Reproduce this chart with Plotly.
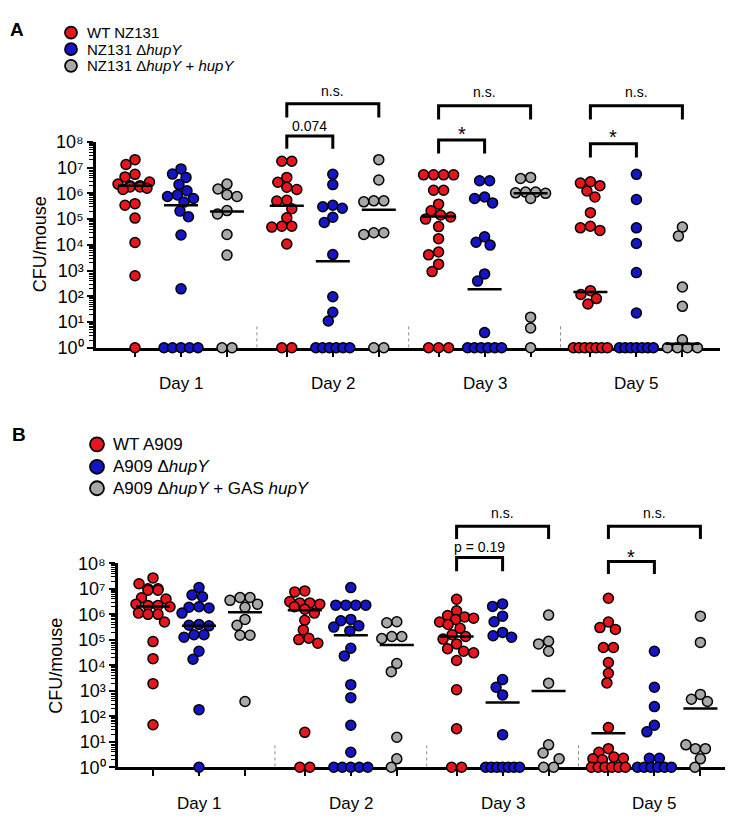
import numpy as np
import plotly.graph_objects as go

W, H = 733, 820

# ---------------- data (log10 CFU/mouse; 0 = 10^0 detection floor) ----------------
days = ["Day 1", "Day 2", "Day 3", "Day 5"]
strains_a = ["WT NZ131", "NZ131 Δ<i>hupY</i>", "NZ131 Δ<i>hupY</i> + <i>hupY</i>"]
strains_b = ["WT A909", "A909 Δ<i>hupY</i>", "A909 Δ<i>hupY</i> + GAS <i>hupY</i>"]
colors = ["#e8161c", "#1515c8", "#a8a8a8"]

a_wt = [
    [7.31, 7.12, 6.74, 6.64, 6.44, 6.36, 6.3, 6.3, 6.25, 6.25, 6.2, 6.15, 5.6, 5.54, 5.04, 4.09, 2.8, 0],
    [7.25, 7.25, 6.62, 6.43, 6.24, 6.15, 5.73, 5.7, 5.4, 5.05, 4.72, 4.72, 4.69, 4.03, 0, 0],
    [6.72, 6.72, 6.72, 6.72, 6.12, 6.12, 5.58, 5.32, 5.16, 5.08, 5.0, 4.71, 4.24, 3.72, 3.61, 3.25, 2.96, 0, 0, 0],
    [6.45, 6.4, 6.3, 6.09, 5.86, 5.25, 4.72, 4.66, 4.56, 2.22, 2.07, 1.91, 1.7, 0, 0, 0, 0, 0, 0, 0],
]
a_ko = [
    [6.95, 6.75, 6.62, 6.34, 6.1, 5.94, 5.88, 5.8, 5.66, 5.31, 5.09, 4.38, 2.29, 0, 0, 0, 0, 0],
    [6.74, 6.34, 5.54, 5.48, 5.42, 5.07, 4.87, 3.62, 1.98, 1.38, 1.04, 0, 0, 0, 0, 0, 0],
    [6.49, 6.49, 5.86, 5.8, 5.63, 4.31, 4.1, 3.99, 2.87, 2.59, 0.59, 0, 0, 0, 0, 0, 0],
    [6.74, 5.76, 4.66, 4.05, 2.92, 1.35, 0, 0, 0, 0, 0, 0, 0],
]
a_comp = [
    [6.36, 6.17, 5.95, 5.88, 5.33, 5.2, 4.4, 3.6, 0, 0],
    [7.31, 6.52, 5.71, 5.71, 5.67, 4.47, 4.47, 4.4, 0, 0],
    [6.62, 6.58, 6.05, 6.05, 6.02, 6.0, 5.8, 1.19, 0.77, 0],
    [4.69, 4.34, 2.36, 1.61, 0.31, 0, 0, 0, 0],
]
a_median = [
    [6.3, 5.52, 5.1, 2.17],
    [5.54, 3.36, 2.27, None],
    [5.3, 5.36, 6.0, 0.16],
]

b_wt = [
    [7.43, 7.2, 7.0, 7.0, 6.95, 6.95, 6.65, 6.6, 6.4, 6.35, 6.35, 6.3, 6.05, 6.0, 6.0, 5.7, 4.93, 4.26, 3.28, 1.67],
    [6.92, 6.88, 6.5, 6.45, 6.45, 6.4, 6.3, 6.2, 6.05, 5.77, 5.39, 5.06, 5.01, 4.87, 1.37, 0, 0],
    [6.59, 6.14, 5.95, 5.9, 5.85, 5.8, 5.7, 5.6, 5.45, 5.2, 5.13, 5.03, 4.84, 4.65, 4.55, 4.49, 4.19, 3.04, 1.51, 0, 0],
    [6.63, 5.7, 5.48, 5.41, 4.7, 4.7, 4.11, 3.69, 3.31, 1.56, 0.73, 0.59, 0.4, 0.35, 0.33, 0.3, 0, 0, 0, 0, 0, 0],
]
b_ko = [
    [7.05, 6.76, 6.69, 6.3, 6.28, 6.25, 6.05, 5.6, 5.57, 5.55, 5.2, 5.2, 5.1, 4.55, 4.24, 2.26, 0],
    [7.05, 6.36, 6.36, 6.36, 6.36, 5.8, 5.75, 5.55, 5.5, 5.35, 4.67, 4.37, 3.24, 2.73, 1.65, 0.59, 0, 0, 0, 0, 0],
    [6.41, 6.31, 5.93, 5.71, 5.29, 5.16, 5.1, 3.44, 3.14, 2.84, 1.28, 0, 0, 0, 0, 0, 0, 0],
    [4.55, 3.14, 2.38, 1.65, 1.39, 0.35, 0.35, 0, 0, 0, 0, 0, 0],
]
b_comp = [
    [6.66, 6.66, 6.55, 6.4, 6.28, 5.8, 5.57, 5.18, 5.18, 2.58],
    [5.71, 5.67, 5.13, 5.13, 5.05, 4.07, 3.75, 1.18, 0.33, 0],
    [5.97, 4.94, 4.84, 4.55, 3.3, 0.88, 0.56, 0.33, 0, 0],
    [5.93, 4.9, 2.86, 2.67, 2.58, 0.88, 0.73, 0.73, 0.33, 0],
]
b_median = [
    [6.31, 6.16, 5.13, 1.33],
    [5.55, 5.18, 2.54, None],
    [6.08, 4.8, 2.99, 2.31],
]

y_exponents = list(range(0, 9))
SUP = "⁰¹²³⁴⁵⁶⁷⁸⁹"
y_ticktext = ["10" + SUP[k] for k in y_exponents]

# ---------------- layout helpers ----------------
FONT = "Liberation Sans, Arial, sans-serif"
DAY_GAP = 3.3
UNIT_PX = 46.0


def px(x):
    return x / W


def py(y):
    return 1 - y / H


def swarm(vals, ppd, ppu, diam=10.0, half=17.0):
    n = len(vals)
    ys = [v * ppd for v in vals]
    offs = [None] * n
    placed = []
    ties = {}
    for i, v in enumerate(vals):
        ties.setdefault(v, []).append(i)
    for v, idx in ties.items():
        k = len(idx)
        if k < 2:
            continue
        w = min((k - 1) * diam, 2 * half)
        for i, x in zip(idx, np.linspace(-w / 2, w / 2, k)):
            offs[i] = float(x)
            placed.append((float(x), ys[i]))
    cands = sorted(np.arange(-half, half + 0.01, 0.5), key=lambda c: (abs(c), c))
    rest = sorted([i for i in range(n) if offs[i] is None], key=lambda i: -vals[i])
    for i in rest:
        best, bestd = 0.0, -1
        for c in cands:
            dmin = min([np.hypot(c - a, ys[i] - b) for a, b in placed], default=1e9)
            if dmin >= diam:
                best = c
                break
            if dmin > bestd:
                bestd, best = dmin, c
        offs[i] = float(best)
        placed.append((float(best), ys[i]))
    return [o / ppu for o in offs]


panels = [
    dict(tag="A", xa="x", ya="y", xk="xaxis", yk="yaxis",
         data=[a_wt, a_ko, a_comp], med=a_median, names=strains_a,
         ax0=88, ax1=712, first=127, ybot=338, ytop=127, sep_top=7.85,
         ylab=(32, 232), daylab_y=375, letter=(9, 12), legfs=15,
         leg=dict(cx=63, ys=[15, 32, 49], r=6, tx=78),
         brackets=[(1, 0, 2, 88, 102, "n.s.", 75, 14),
                   (1, 0, 1, 121, 134, "0.074", 111, 14),
                   (2, 0, 2, 90, 104, "n.s.", 76, 14),
                   (2, 0, 1, 125, 139, "*", 119, 20),
                   (3, 0, 2, 90, 104, "n.s.", 76, 14),
                   (3, 0, 1, 129, 143, "*", 122, 20)]),
    dict(tag="B", xa="x2", ya="y2", xk="xaxis2", yk="yaxis2",
         data=[b_wt, b_ko, b_comp], med=b_median, names=strains_b,
         ax0=110, ax1=731, first=145, ybot=768, ytop=559, sep_top=8.0,
         ylab=(48, 664), daylab_y=805, letter=(11, 427), legfs=17,
         leg=dict(cx=89, ys=[437, 460, 482], r=7, tx=104),
         brackets=[(2, 0, 2, 521, 534, "n.s.", 507, 14),
                   (2, 0, 1, 553, 567, "p = 0.19", 542, 14),
                   (3, 0, 2, 521, 534, "n.s.", 507, 14),
                   (3, 0, 1, 557, 570, "*", 552, 20)]),
]

fig = go.Figure()
shapes, annotations = [], []
layout = {}

for p in panels:
    ppu = UNIT_PX
    ppd = (p["ybot"] - p["ytop"]) / 8.0
    lo = -(p["first"] - p["ax0"]) / UNIT_PX
    hi = lo + (p["ax1"] - p["ax0"]) / UNIT_PX
    gpos = [d * DAY_GAP + g for d in range(4) for g in range(3)]

    # points
    for g in range(3):
        xs, ys = [], []
        for d in range(4):
            vals = p["data"][g][d]
            offs = swarm(vals, ppd, ppu)
            xs += [d * DAY_GAP + g + o for o in offs]
            ys += [10 ** v for v in vals]
        fig.add_trace(go.Scatter(
            x=xs, y=ys, xaxis=p["xa"], yaxis=p["ya"], mode="markers",
            marker=dict(size=10, color=colors[g], line=dict(color="black", width=1.5)),
            cliponaxis=False, showlegend=False, hoverinfo="skip"))

    # median lines
    mx, my = [], []
    for g in range(3):
        for d in range(4):
            m = p["med"][g][d]
            if m is None:
                continue
            c = d * DAY_GAP + g
            mx += [c - 0.37, c + 0.37, None]
            my += [10 ** m, 10 ** m, None]
    fig.add_trace(go.Scatter(x=mx, y=my, xaxis=p["xa"], yaxis=p["ya"], mode="lines",
                             line=dict(color="black", width=2.5), cliponaxis=False,
                             showlegend=False, hoverinfo="skip"))

    layout[p["xk"]] = dict(
        domain=[px(p["ax0"]), px(p["ax1"])], range=[lo, hi], anchor=p["ya"],
        tickmode="array", tickvals=gpos, showticklabels=False,
        ticks="outside", ticklen=6, tickwidth=2, tickcolor="black",
        showline=True, linewidth=2.5, linecolor="black", showgrid=False,
        zeroline=False, layer="below traces", fixedrange=True)
    layout[p["yk"]] = dict(
        type="log", range=[0, 8], domain=[py(p["ybot"]), py(p["ytop"])], anchor=p["xa"],
        tickmode="array", tickvals=[10 ** k for k in y_exponents],
        ticktext=y_ticktext,
        ticks="outside", ticklen=6, tickwidth=2, tickcolor="black",
        tickfont=dict(size=18, color="black", family=FONT),
        minor=dict(tickmode="array",
                   tickvals=[m * 10 ** k for k in range(8) for m in range(2, 10)],
                   ticks="outside", ticklen=4, tickwidth=1.2, tickcolor="black"),
        showline=True, linewidth=2.5, linecolor="black", showgrid=False,
        zeroline=False, layer="below traces", fixedrange=True)

    # dotted separators
    for d in range(3):
        xs = d * DAY_GAP + 2 + (DAY_GAP - 2) / 2
        shapes.append(dict(type="line", xref=p["xa"], yref=p["ya"], x0=xs, x1=xs,
                           y0=0, y1=p["sep_top"], layer="below",
                           line=dict(color="#8a8a8a", width=1, dash="dot")))

    # day labels
    for d, name in enumerate(days):
        annotations.append(dict(x=d * DAY_GAP + 1, y=py(p["daylab_y"]), xref=p["xa"], yref="paper",
                                text=name, showarrow=False, xanchor="center", yanchor="middle",
                                font=dict(size=17, family=FONT, color="black")))

    # y axis title
    annotations.append(dict(x=px(p["ylab"][0]), y=py(p["ylab"][1]), xref="paper", yref="paper",
                            text="CFU/mouse", textangle=-90, showarrow=False,
                            xanchor="center", yanchor="middle",
                            font=dict(size=18, family=FONT, color="black")))

    # panel letter
    annotations.append(dict(x=px(p["letter"][0]), y=py(p["letter"][1]), xref="paper", yref="paper",
                            text=f"<b>{p['tag']}</b>", showarrow=False,
                            xanchor="center", yanchor="middle",
                            font=dict(size=19, family=FONT, color="black")))

    # significance brackets
    for d, g0, g1, top, bot, txt, ty, fs in p["brackets"]:
        x0 = d * DAY_GAP + g0
        x1 = d * DAY_GAP + g1
        shapes.append(dict(type="path", xref=p["xa"], yref="paper",
                           path=f"M {x0},{py(bot)} L {x0},{py(top)} L {x1},{py(top)} L {x1},{py(bot)}",
                           line=dict(color="black", width=3)))
        annotations.append(dict(x=(x0 + x1) / 2, y=py(ty), xref=p["xa"], yref="paper",
                                text=txt, showarrow=False, xanchor="center", yanchor="middle",
                                font=dict(size=fs, family=FONT, color="black")))

    # legend (drawn manually)
    lg = p["leg"]
    for g in range(3):
        cy = lg["ys"][g]
        shapes.append(dict(type="circle", xref="paper", yref="paper",
                           xsizemode="pixel", ysizemode="pixel",
                           xanchor=px(lg["cx"]), yanchor=py(cy),
                           x0=-lg["r"], x1=lg["r"], y0=-lg["r"], y1=lg["r"],
                           fillcolor=colors[g], line=dict(color="black", width=1.8)))
        annotations.append(dict(x=px(lg["tx"]), y=py(cy), xref="paper", yref="paper",
                                text=p["names"][g], showarrow=False, xanchor="left", yanchor="middle",
                                borderpad=0,
                                font=dict(size=p["legfs"], family=FONT, color="black")))

fig.update_layout(
    width=W, height=H, margin=dict(l=0, r=0, t=0, b=0),
    paper_bgcolor="white", plot_bgcolor="white",
    font=dict(family=FONT, color="black"),
    shapes=shapes, annotations=annotations, showlegend=False,
    **layout)

fig.write_html("out.html")
